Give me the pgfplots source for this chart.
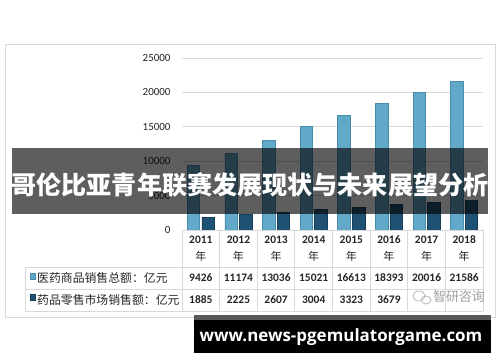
\documentclass[border=0pt]{standalone}
\usepackage{pgfplots}
\pgfplotsset{compat=1.18}
\usepackage{fontspec}
\setmainfont{Carlito}
\newfontfamily\cjk{Noto Sans CJK SC}
\newfontfamily\urlfont{Open Sans}
\definecolor{lb}{HTML}{62A8C8}
\definecolor{lbe}{HTML}{4A8CAE}
\definecolor{db}{HTML}{1F5272}
\definecolor{dbe}{HTML}{183F58}
\definecolor{gridc}{HTML}{D9D9D9}
\definecolor{txt}{HTML}{262626}
\begin{document}
\begin{tikzpicture}
\fill[white] (0,0) rectangle (500bp,-362bp);
\useasboundingbox (0,0) rectangle (500bp,-362bp);
\begin{scope}[x=1bp,y=-1bp]
  \draw[gridc, line width=1bp] (5,44) rectangle (495,317);
\end{scope}
\begin{axis}[at={(182bp,-230bp)}, anchor=south west, scale only axis,
  width=301bp, height=172bp, xmin=-0.5, xmax=7.5, ymin=0, ymax=25000,
  ytick={0,5000,...,25000}, xtick=\empty, ymajorgrids, scaled ticks=false,
  grid style={gridc, line width=1bp}, axis line style={draw=none},
  major tick length=0pt,
  /pgf/number format/1000 sep={},
  /pgf/number format/assume math mode=true,
  yticklabel style={font=\fontsize{11}{13}\selectfont, text=txt, xshift=-8bp},
  clip=false]
\addplot[ybar, bar width=12.5bp, bar shift=-7.3bp, fill=lb, draw=lbe, line width=0.6bp]
  coordinates {(0,9426) (1,11174) (2,13036) (3,15021) (4,16613) (5,18393) (6,20016) (7,21586)};
\addplot[ybar, bar width=12.5bp, bar shift=7.3bp, fill=db, draw=dbe, line width=0.6bp]
  coordinates {(0,1885) (1,2225) (2,2607) (3,3004) (4,3323) (5,3679) (6,4003) (7,4317)};
\end{axis}
\begin{scope}[x=1bp,y=-1bp]
  % table grid
  \draw[gridc, line width=1bp] (182,230) -- (483,230);
  \draw[gridc, line width=1bp] (25,267) -- (483,267);
  \draw[gridc, line width=1bp] (25,289) -- (483,289);
  \draw[gridc, line width=1bp] (25,311) -- (483,311);
  \draw[gridc, line width=1bp] (25,267) -- (25,311);
  \foreach \k in {0,...,8} {
    \draw[gridc, line width=1bp] ({182+37.625*\k},230) -- ({182+37.625*\k},311);
  }
  \foreach \i/\yr/\a in {0/2011/9426, 1/2012/11174, 2/2013/13036,
      3/2014/15021, 4/2015/16613, 5/2016/18393, 6/2017/20016, 7/2018/21586} {
    \pgfmathsetmacro\cx{182+37.625*(\i+0.5)}
    \node[text=txt, font=\bfseries\fontsize{11.5}{13}\selectfont] at (\cx,240) {\yr};
    \node[text=txt, font=\cjk\fontsize{11}{13}\selectfont] at (\cx,256) {年};
    \node[text=txt, font=\bfseries\fontsize{11.5}{13}\selectfont] at (\cx,278) {\a};
  }
  \foreach \i/\b in {0/1885, 1/2225, 2/2607, 3/3004, 4/3323, 5/3679} {
    \pgfmathsetmacro\cx{182+37.625*(\i+0.5)}
    \node[text=txt, font=\bfseries\fontsize{11.5}{13}\selectfont] at (\cx,299.5) {\b};
  }
  % legend cells
  \fill[lb, draw=lbe, line width=0.5bp] (30,273) rectangle (35.5,279);
  \fill[db, draw=dbe, line width=0.5bp] (30,294.5) rectangle (35.5,300.5);
  \node[anchor=west, inner sep=0pt, text=txt, font=\cjk\fontsize{11.9}{13}\selectfont] at (37,278) {医药商品销售总额：亿元};
  \node[anchor=west, inner sep=0pt, text=txt, font=\cjk\fontsize{11.9}{13}\selectfont] at (37,299.5) {药品零售市场销售额：亿元};
  % watermark
  \draw[gray!55, line width=0.8bp] (419,296) ellipse (6 and 5);
  \draw[gray!55, line width=0.8bp] (426,300) ellipse (5 and 4);
  \node[text=gray!75, font=\cjk\fontsize{13}{14}\selectfont] at (459,297) {智研咨询};
  % title banner
  \fill[black, opacity=0.63] (12,148) rectangle (488,214);
  \node[text=white, font=\cjk\bfseries\fontsize{25.2}{27}\selectfont] at (250,184.5) {哥伦比亚青年联赛发展现状与未来展望分析};
  % bottom banner
  \fill[black!65] (194,314.5) rectangle (491,320);
  \fill[black] (194,320) rectangle (491,353);
  \node[text=white, font=\urlfont\bfseries\fontsize{17}{19}\selectfont] at (341,337) {www.news-pgemulatorgame.com};
\end{scope}
\end{tikzpicture}
\end{document}
